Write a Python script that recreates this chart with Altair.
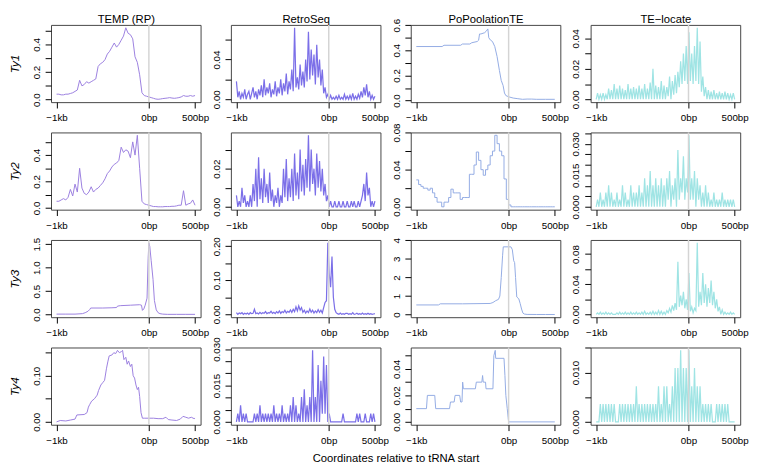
import altair as alt
import pandas as pd

# ---------------- data ----------------
methods = ["TEMP (RP)", "RetroSeq", "PoPoolationTE", "TE\u2212locate"]
families = ["Ty1", "Ty2", "Ty3", "Ty4"]
colors = ["#9b7fdf", "#7b6fe8", "#92abe3", "#9fe4e4"]

x_tick_values = [-1000, 0, 500]
x_grid25 = list(range(-1000, 501, 25))
x_grid15 = list(range(-1000, 501, 15))

# --- TEMP (RP)
temp_ty1_y = [0.04, 0.04, 0.035, 0.035, 0.04, 0.04, 0.045, 0.05, 0.06, 0.07,
              0.14, 0.10, 0.11, 0.13, 0.12, 0.13, 0.14, 0.15, 0.24, 0.26,
              0.27, 0.29, 0.33, 0.35, 0.38, 0.41, 0.38, 0.40, 0.43, 0.46,
              0.52, 0.48, 0.47, 0.44, 0.31, 0.27, 0.18, 0.05, 0.03, 0.025,
              0.02, 0.015, 0.01, 0.005, 0.003, 0.005, 0.008, 0.01, 0.012, 0.015,
              0.012, 0.01, 0.012, 0.015, 0.02, 0.03, 0.025, 0.025, 0.03, 0.025,
              0.03]
temp_ty2_y = [0.05, 0.05, 0.06, 0.07, 0.06, 0.08, 0.14, 0.09, 0.18, 0.12,
              0.30, 0.15, 0.11, 0.10, 0.12, 0.16, 0.12, 0.14, 0.15, 0.17,
              0.19, 0.22, 0.26, 0.28, 0.31, 0.33, 0.34, 0.36, 0.46, 0.42,
              0.44, 0.43, 0.38, 0.50, 0.40, 0.55, 0.30, 0.05, 0.03, 0.025,
              0.02, 0.015, 0.01, 0.01, 0.008, 0.008, 0.008, 0.01, 0.01, 0.01,
              0.012, 0.012, 0.015, 0.02, 0.02, 0.13, 0.02, 0.03, 0.035, 0.06,
              0.02]
temp_ty3_x = [-1000, -900, -800, -720, -690, -660, -640, -630, -500, -400,
              -350, -340, -310, -200, -100, -80, -70, -55, -40, -20,
              -8, 0, 10, 25, 45, 60, 80, 100, 120, 150,
              200, 300, 400, 500]
temp_ty3_y = [0.01, 0.01, 0.01, 0.02, 0.04, 0.07, 0.11, 0.14, 0.14, 0.145,
              0.15, 0.18, 0.19, 0.20, 0.21, 0.2, 0.09, 0.12, 0.2, 0.35,
              1.2, 1.53, 1.45, 1.15, 0.75, 0.3, 0.1, 0.04, 0.02, 0.01,
              0.005, 0.005, 0.005, 0.005]
temp_ty4_x = [-1000, -960, -900, -850, -800, -780, -700, -670, -655, -640,
              -620, -590, -560, -545, -520, -500, -480, -460, -445, -430,
              -400, -380, -360, -340, -320, -300, -285, -270, -250, -235,
              -220, -200, -185, -170, -155, -140, -125, -112, -100, -85,
              -70, -50, 0, 50, 100, 150, 185, 210, 250, 300,
              340, 370, 400, 430, 460, 490, 500]
temp_ty4_y = [0.0, 0.003, 0.002, 0.004, 0.006, 0.015, 0.016, 0.02, 0.032, 0.038,
              0.045, 0.05, 0.058, 0.068, 0.08, 0.085, 0.09, 0.115, 0.13, 0.143,
              0.145, 0.15, 0.148, 0.155, 0.15, 0.152, 0.155, 0.135, 0.14, 0.125,
              0.132, 0.12, 0.125, 0.1, 0.095, 0.08, 0.07, 0.075, 0.055, 0.02,
              0.008, 0.008, 0.008, 0.008, 0.007, 0.007, 0.01, 0.005, 0.004, 0.003,
              0.006, 0.012, 0.01, 0.008, 0.01, 0.007, 0.008]

# --- RetroSeq
retro_ty1_y = [0.018, 0.002, 0.008, 0.0, 0.006, 0.002, 0.01, 0.0, 0.005, 0.008,
               0.0, 0.006, 0.012, 0.002, 0.008, 0.0, 0.01, 0.004, 0.014, 0.002,
               0.02, 0.004, 0.012, 0.006, 0.016, 0.002, 0.01, 0.005, 0.018, 0.003,
               0.012, 0.006, 0.02, 0.004, 0.016, 0.008, 0.026, 0.005, 0.018, 0.01,
               0.03, 0.008, 0.072, 0.012, 0.022, 0.01, 0.035, 0.014, 0.028, 0.012,
               0.04, 0.018, 0.068, 0.02, 0.05, 0.024, 0.045, 0.015, 0.055, 0.022,
               0.04, 0.014, 0.03, 0.006, 0.012, 0.002, 0.005, 0.0, 0.004, 0.0,
               0.002, 0.0, 0.003, 0.0, 0.004, 0.0, 0.002, 0.0, 0.005, 0.0,
               0.003, 0.0, 0.004, 0.0, 0.006, 0.0, 0.003, 0.0, 0.005, 0.001,
               0.008, 0.002, 0.012, 0.004, 0.015, 0.002, 0.008, 0.0, 0.004, 0.0,
               0.003]
retro_ty2_y = [0.006, 0.0, 0.003, 0.0, 0.01, 0.002, 0.006, 0.0, 0.003, 0.0,
               0.006, 0.0, 0.012, 0.003, 0.02, 0.0, 0.026, 0.004, 0.015, 0.002,
               0.02, 0.005, 0.012, 0.002, 0.018, 0.003, 0.009, 0.0, 0.006, 0.002,
               0.01, 0.0, 0.006, 0.002, 0.02, 0.005, 0.025, 0.003, 0.015, 0.005,
               0.02, 0.003, 0.028, 0.006, 0.018, 0.004, 0.03, 0.008, 0.022, 0.006,
               0.025, 0.01, 0.0375, 0.008, 0.03, 0.012, 0.02, 0.006, 0.028, 0.01,
               0.024, 0.008, 0.02, 0.006, 0.012, 0.003, 0.006, 0.0, 0.003, 0.0,
               0.0, 0.003, 0.0, 0.0, 0.003, 0.0, 0.0, 0.003, 0.0, 0.0,
               0.003, 0.0, 0.0, 0.003, 0.0, 0.003, 0.0, 0.0, 0.003, 0.0,
               0.003, 0.006, 0.012, 0.003, 0.018, 0.006, 0.01, 0.0, 0.003, 0.0,
               0.003]
retro_ty3_y = [0.005, 0.0, 0.004, 0.002, 0.005, 0.0, 0.003, 0.001, 0.004, 0.0,
               0.005, 0.002, 0.003, 0.015, 0.002, 0.004, 0.001, 0.006, 0.002, 0.005,
               0.003, 0.008, 0.002, 0.005, 0.004, 0.009, 0.003, 0.006, 0.002, 0.008,
               0.004, 0.01, 0.003, 0.008, 0.005, 0.012, 0.004, 0.009, 0.006, 0.013,
               0.006, 0.015, 0.008, 0.022, 0.01, 0.025, 0.012, 0.02, 0.006, 0.012,
               0.004, 0.01, 0.005, 0.016, 0.006, 0.012, 0.004, 0.01, 0.005, 0.014,
               0.006, 0.012, 0.004, 0.02, 0.035, 0.04, 0.21, 0.12, 0.08, 0.17,
               0.05, 0.015, 0.005, 0.002, 0.0, 0.004, 0.0, 0.002, 0.0, 0.003,
               0.003, 0.0, 0.002, 0.0, 0.005, 0.0, 0.001, 0.003, 0.0, 0.002,
               0.0, 0.004, 0.0, 0.002, 0.0, 0.003, 0.0, 0.002, 0.0, 0.001,
               0.002]
retro_ty4_y = [0.0, 0.0034, 0.0, 0.0068, 0.0, 0.0034, 0.0, 0.0034, 0.0, 0.0,
               0.0, 0.0, 0.0, 0.0034, 0.0, 0.0034, 0.0, 0.0068, 0.0, 0.0034,
               0.0, 0.0034, 0.0, 0.0034, 0.0, 0.0034, 0.0, 0.0068, 0.0, 0.0034,
               0.0, 0.0034, 0.0, 0.0068, 0.0, 0.0034, 0.0, 0.0034, 0.0, 0.0068,
               0.0, 0.0102, 0.0, 0.0068, 0.0, 0.0034, 0.0, 0.0102, 0.0, 0.0135,
               0.0, 0.0068, 0.0, 0.0102, 0.0, 0.0295, 0.0, 0.0102, 0.0, 0.0235,
               0.0, 0.017, 0.0034, 0.027, 0.0034, 0.0235, 0.0, 0.0034, 0.0, 0.0,
               0.0, 0.0, 0.0, 0.0, 0.0, 0.0, 0.0, 0.0034, 0.0, 0.0,
               0.0, 0.0, 0.0, 0.0, 0.0, 0.0, 0.0, 0.0034, 0.0, 0.0034,
               0.0, 0.0, 0.0, 0.0034, 0.0, 0.0, 0.0, 0.0034, 0.0, 0.0034,
               0.0]

# --- PoPoolationTE
popo_ty1_x = [-1000, -720, -700, -520, -500, -420, -400, -340, -325, -315,
              -300, -260, -245, -225, -215, -195, -175, -150, -125, -100,
              -80, -60, -45, -30, 0, 50, 100, 150, 200, 250,
              300, 400, 500]
popo_ty1_y = [0.43, 0.43, 0.44, 0.44, 0.45, 0.45, 0.46, 0.47, 0.48, 0.53,
              0.53, 0.54, 0.55, 0.57, 0.5, 0.48, 0.47, 0.43, 0.35, 0.24,
              0.16, 0.12, 0.06, 0.04, 0.03, 0.02, 0.015, 0.01, 0.012, 0.012,
              0.01, 0.01, 0.01]
popo_ty2_y = [0.029, 0.024, 0.022, 0.02, 0.02, 0.018, 0.02, 0.015, 0.01, 0.005,
              0.005, 0.0, 0.005, 0.005, 0.01, 0.019, 0.015, 0.015, 0.015, 0.008,
              0.01, 0.01, 0.01, 0.035, 0.035, 0.045, 0.059, 0.05, 0.04, 0.034,
              0.04, 0.045, 0.055, 0.06, 0.077, 0.068, 0.06, 0.055, 0.03, 0.008,
              0.002, 0.0, 0.0, 0.0, 0.0, 0.0, 0.0, 0.0, 0.0, 0.0,
              0.0, 0.0, 0.0, 0.0, 0.0, 0.0, 0.0, 0.0, 0.0, 0.0,
              0.0]
popo_ty3_x = [-1000, -760, -740, -500, -200, -170, -140, -110, -95, -80,
              -65, -58, 25, 40, 55, 65, 75, 88, 110, 125,
              140, 155, 170, 200, 300, 400, 500]
popo_ty3_y = [0.52, 0.52, 0.58, 0.58, 0.6, 0.65, 0.75, 0.82, 1.0, 2.0,
              3.2, 3.65, 3.65, 3.5, 2.9, 2.8, 2.0, 0.95, 0.85, 0.6,
              0.3, 0.08, 0.03, 0.01, 0.005, 0.005, 0.005]
popo_ty4_x = [-1000, -890, -880, -800, -790, -640, -630, -590, -580, -530,
              -520, -505, -498, -490, -360, -350, -290, -282, -275, -250,
              -245, -170, -160, -145, -140, -50, -40, -30, -15, -5,
              0, 500]
popo_ty4_y = [0.01, 0.01, 0.02, 0.02, 0.01, 0.01, 0.015, 0.015, 0.02, 0.02,
              0.015, 0.015, 0.03, 0.025, 0.025, 0.03, 0.03, 0.035, 0.03, 0.03,
              0.025, 0.025, 0.05, 0.054, 0.048, 0.048, 0.035, 0.02, 0.01, 0.003,
              0.0, 0.0]

# --- TE-locate
tel_ty1_y = [0.0, 0.004, 0.0, 0.003, 0.0, 0.004, 0.0, 0.003, 0.0, 0.007,
             0.0, 0.006, 0.0, 0.01, 0.0, 0.007, 0.0, 0.009, 0.0, 0.007,
             0.0, 0.006, 0.0, 0.01, 0.0, 0.007, 0.0, 0.008, 0.0, 0.007,
             0.0, 0.009, 0.0, 0.007, 0.0, 0.01, 0.0, 0.007, 0.0, 0.011,
             0.0, 0.02, 0.0, 0.009, 0.0, 0.008, 0.0, 0.012, 0.0, 0.009,
             0.0, 0.008, 0.002, 0.015, 0.0, 0.012, 0.003, 0.016, 0.004, 0.018,
             0.008, 0.025, 0.01, 0.03, 0.012, 0.035, 0.01, 0.044, 0.012, 0.03,
             0.01, 0.035, 0.012, 0.047, 0.01, 0.038, 0.005, 0.015, 0.002, 0.008,
             0.0, 0.006, 0.0, 0.005, 0.0, 0.006, 0.0, 0.004, 0.0, 0.005,
             0.0, 0.004, 0.0, 0.005, 0.0, 0.004, 0.0, 0.003, 0.0, 0.004,
             0.0]
tel_ty2_y = [0.0, 0.0034, 0.0, 0.0068, 0.0, 0.0034, 0.0, 0.0068, 0.0, 0.0102,
             0.0, 0.0068, 0.0, 0.0034, 0.0, 0.0068, 0.0, 0.0034, 0.0, 0.0102,
             0.0, 0.0068, 0.0, 0.0034, 0.0, 0.0102, 0.0, 0.0068, 0.0, 0.0068,
             0.0, 0.0102, 0.0, 0.0068, 0.0, 0.0136, 0.0, 0.0102, 0.0, 0.017,
             0.0, 0.0102, 0.0, 0.0136, 0.0, 0.0102, 0.0, 0.0136, 0.0, 0.0102,
             0.0, 0.0136, 0.0034, 0.017, 0.0, 0.0102, 0.0034, 0.0136, 0.0, 0.027,
             0.0034, 0.0136, 0.0068, 0.024, 0.0034, 0.0136, 0.0068, 0.034, 0.0034, 0.0136,
             0.0034, 0.017, 0.0, 0.0136, 0.0034, 0.0102, 0.0, 0.0068, 0.0, 0.0102,
             0.0, 0.0068, 0.0, 0.0034, 0.0, 0.0068, 0.0, 0.0034, 0.0, 0.0034,
             0.0, 0.0068, 0.0, 0.0034, 0.0, 0.0034, 0.0, 0.0034, 0.0, 0.0034,
             0.0]
tel_ty3_y = [0.0, 0.002, 0.0, 0.003, 0.0, 0.002, 0.0, 0.003, 0.0, 0.002,
             0.0, 0.002, 0.0, 0.0, 0.0, 0.002, 0.0, 0.003, 0.0, 0.002,
             0.0, 0.003, 0.0, 0.002, 0.0, 0.003, 0.0, 0.002, 0.0, 0.003,
             0.0, 0.002, 0.0, 0.003, 0.0, 0.004, 0.0, 0.002, 0.0, 0.003,
             0.0, 0.004, 0.0, 0.003, 0.0, 0.005, 0.0, 0.004, 0.0, 0.003,
             0.0, 0.005, 0.002, 0.008, 0.003, 0.012, 0.005, 0.015, 0.006, 0.07,
             0.01, 0.025, 0.012, 0.03, 0.008, 0.02, 0.006, 0.055, 0.004, 0.01,
             0.002, 0.008, 0.005, 0.095, 0.01, 0.03, 0.012, 0.055, 0.015, 0.04,
             0.01, 0.035, 0.015, 0.045, 0.012, 0.03, 0.008, 0.02, 0.004, 0.01,
             0.0, 0.006, 0.0, 0.003, 0.0, 0.002, 0.0, 0.003, 0.0, 0.002,
             0.0]
tel_ty4_y = [0.0, 0.0, 0.0, 0.0036, 0.0, 0.0036, 0.0, 0.0036, 0.0, 0.0036,
             0.0, 0.0036, 0.0, 0.0036, 0.0, 0.0, 0.0, 0.0036, 0.0, 0.0036,
             0.0, 0.0036, 0.0, 0.0036, 0.0, 0.0036, 0.0, 0.0036, 0.0, 0.0072,
             0.0, 0.0036, 0.0, 0.0036, 0.0, 0.0036, 0.0, 0.0036, 0.0, 0.0036,
             0.0, 0.0036, 0.0, 0.0036, 0.0, 0.0072, 0.0, 0.0036, 0.0, 0.0072,
             0.0, 0.0072, 0.0, 0.0036, 0.0, 0.0072, 0.0, 0.0109, 0.0, 0.0109,
             0.0, 0.0145, 0.0, 0.0109, 0.0, 0.0109, 0.0, 0.0145, 0.0, 0.0072,
             0.0, 0.0109, 0.0, 0.0072, 0.0, 0.0072, 0.0, 0.0036, 0.0, 0.0036,
             0.0, 0.0036, 0.0, 0.0036, 0.0, 0.0, 0.0, 0.0036, 0.0, 0.0036,
             0.0, 0.0036, 0.0, 0.0036, 0.0, 0.0036, 0.0, 0.0, 0.0, 0.0,
             0.0]

# y-axis ticks, labelled ticks and label formats per panel (row = family)
y_ticks = {
    ("Ty1", 0): ([0, 0.1, 0.2, 0.3, 0.4, 0.5], [0, 0.2, 0.4], ".1f"),
    ("Ty1", 1): ([0, 0.02, 0.04, 0.06], [0, 0.04], ".2f"),
    ("Ty1", 2): ([0, 0.1, 0.2, 0.3, 0.4, 0.5, 0.6], [0, 0.2, 0.4, 0.6], ".1f"),
    ("Ty1", 3): ([0, 0.01, 0.02, 0.03, 0.04], [0, 0.02, 0.04], ".2f"),
    ("Ty2", 0): ([0, 0.1, 0.2, 0.3, 0.4, 0.5], [0, 0.2, 0.4], ".1f"),
    ("Ty2", 1): ([0, 0.01, 0.02, 0.03], [0, 0.02], ".2f"),
    ("Ty2", 2): ([0, 0.02, 0.04, 0.06, 0.08], [0, 0.04, 0.08], ".2f"),
    ("Ty2", 3): ([0, 0.005, 0.01, 0.015, 0.02, 0.025, 0.03, 0.035], [0, 0.015, 0.03], ".3f"),
    ("Ty3", 0): ([0, 0.5, 1.0, 1.5], [0, 0.5, 1.0, 1.5], ".1f"),
    ("Ty3", 1): ([0, 0.05, 0.1, 0.15, 0.2], [0, 0.1, 0.2], ".2f"),
    ("Ty3", 2): ([0, 1, 2, 3, 4], [0, 1, 2, 3, 4], "d"),
    ("Ty3", 3): ([0, 0.02, 0.04, 0.06, 0.08], [0, 0.04, 0.08], ".2f"),
    ("Ty4", 0): ([0, 0.05, 0.1, 0.15], [0, 0.1], ".2f"),
    ("Ty4", 1): ([0, 0.005, 0.01, 0.015, 0.02, 0.025, 0.03], [0, 0.015, 0.03], ".3f"),
    ("Ty4", 2): ([0, 0.01, 0.02, 0.03, 0.04, 0.05], [0, 0.02, 0.04], ".2f"),
    ("Ty4", 3): ([0, 0.005, 0.01, 0.015], [0, 0.01], ".3f"),
}
y_top_override = {("Ty1", 2): 0.602, ("Ty3", 2): 4.02}

series = {
    ("Ty1", 0): (x_grid25, temp_ty1_y), ("Ty1", 1): (x_grid15, retro_ty1_y),
    ("Ty1", 2): (popo_ty1_x, popo_ty1_y), ("Ty1", 3): (x_grid15, tel_ty1_y),
    ("Ty2", 0): (x_grid25, temp_ty2_y), ("Ty2", 1): (x_grid15, retro_ty2_y),
    ("Ty2", 2): (x_grid25, popo_ty2_y), ("Ty2", 3): (x_grid15, tel_ty2_y),
    ("Ty3", 0): (temp_ty3_x, temp_ty3_y), ("Ty3", 1): (x_grid15, retro_ty3_y),
    ("Ty3", 2): (popo_ty3_x, popo_ty3_y), ("Ty3", 3): (x_grid15, tel_ty3_y),
    ("Ty4", 0): (temp_ty4_x, temp_ty4_y), ("Ty4", 1): (x_grid15, retro_ty4_y),
    ("Ty4", 2): (popo_ty4_x, popo_ty4_y), ("Ty4", 3): (x_grid15, tel_ty4_y),
}
step_panels = {("Ty2", 2)}
noisy_cols = {1, 3}

# ---------------- layout ----------------
FONT = "Liberation Sans"
W, H = 153, 79
SP = 31
X_LABEL_EXPR = ("datum.value < -500 ? '\u22121kb' : "
                "(datum.value < 250 ? '0bp' : '500bp')")
XSCALE = alt.Scale(domain=[-1060, 560], nice=False, zero=False)


def make_panel(fam, ci):
    xs, ys = series[(fam, ci)]
    ticks, labels, fmt = y_ticks[(fam, ci)]
    lo, hi = min(ys), max(ys)
    pad = 0.04 * (hi - lo)
    top = y_top_override.get((fam, ci), hi + pad)
    dom = [lo - pad, top]
    tvals = [t for t in ticks if dom[0] <= t <= dom[1]]
    lab_js = "[" + ",".join(repr(v) for v in labels) + "]"
    yexpr = f"indexof({lab_js}, datum.value) >= 0 ? format(datum.value, '{fmt}') : ''"

    is_first_col = ci == 0
    is_title_cell = (fam == "Ty4" and ci == 1)

    xaxis_kw = dict(values=x_tick_values, labelExpr=X_LABEL_EXPR, tickSize=6,
                    labelPadding=5, labelFlush=False, labelOverlap=False,
                    grid=False, domain=False, labelFontSize=10)
    if is_title_cell:
        xaxis_kw.update(title="Coordinates relative to tRNA start",
                        titleX=W + SP / 2, titleY=35, titleBaseline="middle",
                        titleAlign="center", titleFontSize=11.5,
                        titleFontWeight="normal")
    else:
        xaxis_kw.update(title=None)

    yaxis_kw = dict(values=tvals, labelExpr=yexpr, labelAngle=270,
                    labelAlign="center", labelBaseline="bottom", tickSize=6,
                    labelPadding=4, labelOverlap=False, grid=False,
                    domain=False, labelFontSize=10)
    if is_first_col:
        yaxis_kw.update(title=fam, titleFontStyle="italic",
                        titleFontWeight="normal", titleFontSize=12,
                        titlePadding=10)
    else:
        yaxis_kw.update(title=None)

    xenc = alt.X("x:Q", scale=XSCALE, axis=alt.Axis(**xaxis_kw))
    yenc = alt.Y("y:Q", scale=alt.Scale(domain=dom, nice=False, zero=False),
                 axis=alt.Axis(**yaxis_kw))

    df = pd.DataFrame({"x": xs, "y": ys})
    line_kw = dict(color=colors[ci],
                   strokeWidth=1.25 if ci in noisy_cols else 1.0)
    if (fam, ci) in step_panels:
        line_kw["interpolate"] = "step-after"
    line = alt.Chart(df).mark_line(**line_kw).encode(x=xenc, y=yenc)

    if fam == "Ty1":
        top_axis = alt.Axis(orient="top", values=[], labels=False,
                            ticks=False, domain=False, grid=False,
                            title=methods[ci], titlePadding=0,
                            titleFontSize=11.5, titleFontWeight="normal")
        vx = alt.X("x:Q", scale=XSCALE, axis=top_axis)
    else:
        vx = xenc
    vline = alt.Chart(pd.DataFrame({"x": [0]})).mark_rule(
        color="#d4d4d4", strokeWidth=1.5).encode(x=vx)

    layer = alt.layer(line, vline).properties(width=W, height=H)
    if fam == "Ty1":
        layer = layer.resolve_axis(x="independent")
    return layer


panels = [make_panel(fam, ci) for fam in families for ci in range(4)]

chart = alt.concat(*panels, columns=4, spacing=SP, bounds="flush").properties(
    padding=0
).configure_view(
    stroke="#444444", strokeWidth=1
).configure_axis(
    labelFont=FONT, titleFont=FONT, labelColor="black", titleColor="black",
    tickColor="black", tickWidth=1
).configure_title(
    font=FONT, color="black"
)

chart.save("out.html", embed_options={"renderer": "svg", "actions": False})
